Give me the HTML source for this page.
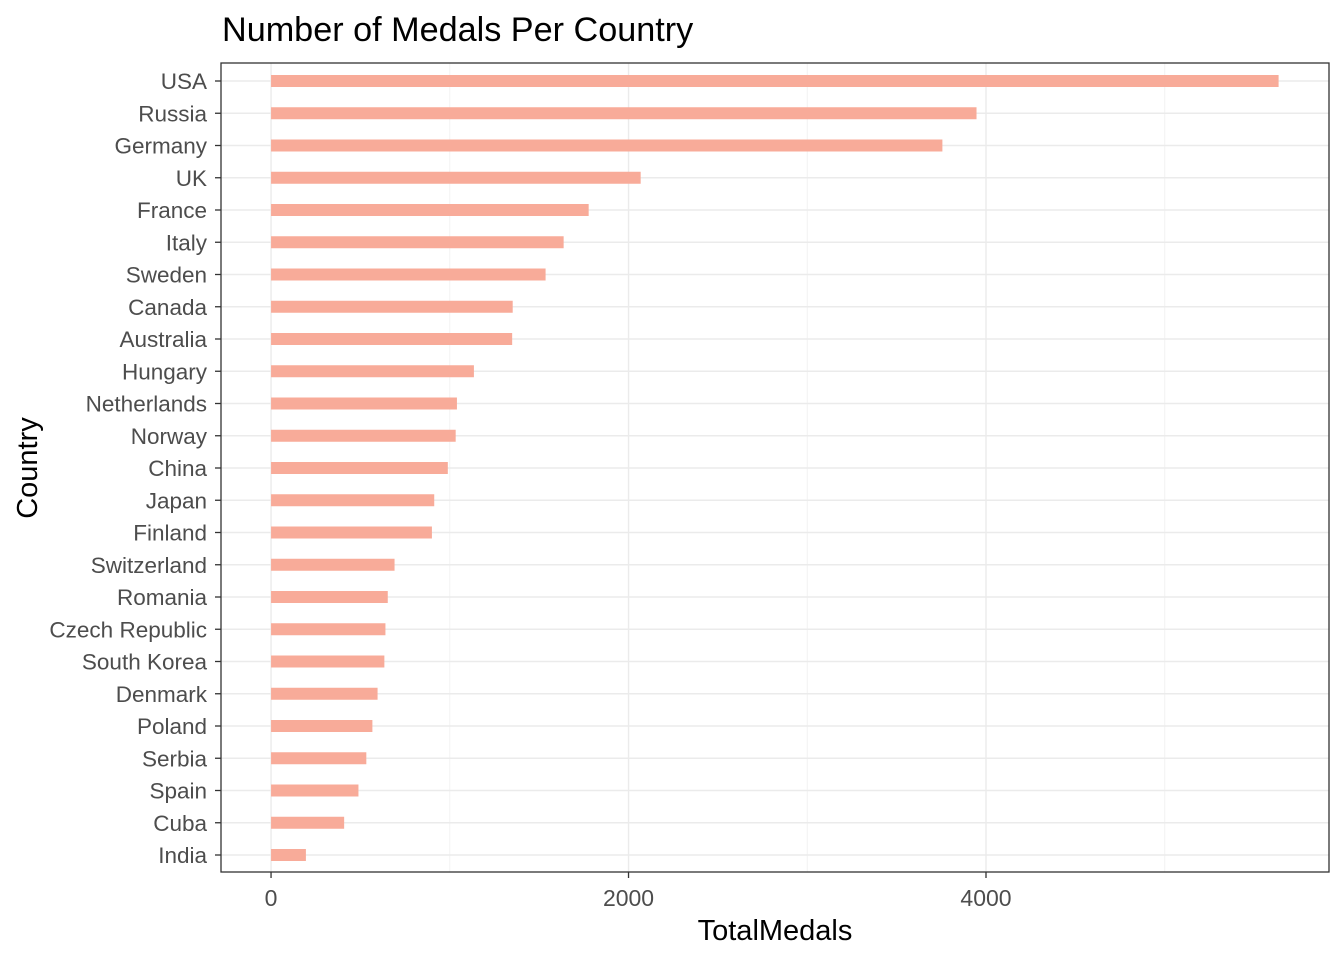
<!DOCTYPE html>
<html><head><meta charset="utf-8"><style>
body{margin:0;background:#fff;}
svg text{font-family:"Liberation Sans",Arial,sans-serif;}
</style></head><body>
<svg id="chart" width="1344" height="960" xmlns="http://www.w3.org/2000/svg">
<text x="222" y="41" font-size="34.2" fill="#000">Number of Medals Per Country</text>
<g id="grid"></g>
<g id="bars"></g>
<rect x="221" y="63" width="1108" height="809" fill="none" stroke="#333" stroke-width="1.3"/>
<g id="yaxis"></g>
<g id="xaxis"></g>
<text x="775" y="940" font-size="29" text-anchor="middle" fill="#000">TotalMedals</text>
<text transform="translate(37,468) rotate(-90)" font-size="29" text-anchor="middle" fill="#000">Country</text>
</svg>
<script>
const countries=["USA","Russia","Germany","UK","France","Italy","Sweden","Canada","Australia","Hungary","Netherlands","Norway","China","Japan","Finland","Switzerland","Romania","Czech Republic","South Korea","Denmark","Poland","Serbia","Spain","Cuba","India"];
const medals=[5637,3947,3756,2068,1777,1637,1536,1352,1349,1135,1040,1033,989,913,900,691,653,640,634,596,567,533,489,409,195];
const majorTicks=[0,2000,4000];
const minorTicks=[1000,3000,5000];
const NS="http://www.w3.org/2000/svg";
const xMin=-280,xMax=5919,pL=221,pR=1329,pT=63,pB=872;
function x(v){return pL+(v-xMin)/(xMax-xMin)*(pR-pL);}
function y(i){return 81+i*(855-81)/(countries.length-1);}
function mk(tag,attrs,parent){const e=document.createElementNS(NS,tag);for(const k in attrs)e.setAttribute(k,attrs[k]);parent.appendChild(e);return e;}
const grid=document.getElementById('grid'),bars=document.getElementById('bars'),ya=document.getElementById('yaxis'),xa=document.getElementById('xaxis');
minorTicks.forEach(t=>{const l=mk('line',{x1:x(t),x2:x(t),y1:pT,y2:pB,stroke:'#F2F2F2','stroke-width':1},grid);

});
majorTicks.forEach(t=>{const l=mk('line',{x1:x(t),x2:x(t),y1:pT,y2:pB,stroke:'#EBEBEB','stroke-width':1.4},grid);


const tk=mk('line',{x1:x(t),x2:x(t),y1:pB,y2:pB+6,stroke:'#333','stroke-width':1.3},xa);


const tx=mk('text',{x:x(t),y:906,'font-size':23,'text-anchor':'middle',fill:'#4D4D4D'},xa);tx.textContent=t;

});
countries.forEach((c,i)=>{const yy=y(i);
const g=mk('line',{x1:pL,x2:pR,y1:yy,y2:yy,stroke:'#EBEBEB','stroke-width':1.4},grid);


const b=mk('rect',{x:x(0),y:yy-6,width:x(medals[i])-x(0),height:12,fill:'#F8AB99'},bars);


const tk=mk('line',{x1:pL-6,x2:pL,y1:yy,y2:yy,stroke:'#333','stroke-width':1.3},ya);


const t=mk('text',{x:pL-14,y:yy+8,'font-size':22.5,'text-anchor':'end',fill:'#4D4D4D'},ya);t.textContent=c;

});
</script>
</body></html>
